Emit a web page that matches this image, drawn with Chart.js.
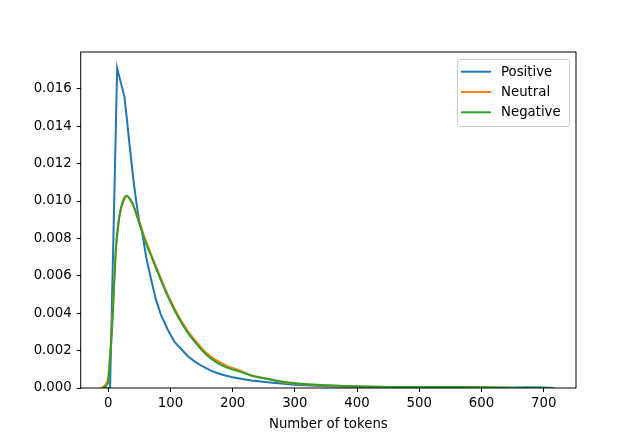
<!DOCTYPE html>
<html>
<head>
<meta charset="utf-8">
<script src="https://cdn.jsdelivr.net/npm/chart.js@4/dist/chart.umd.min.js"></script>
<style>
  html, body { margin: 0; padding: 0; background: #fff; }
  #wrap { width: 640px; height: 436px; }
</style>
</head>
<body>
<div id="wrap"><canvas id="chart" width="640" height="436"></canvas></div>
<script>
// density curves
const positiveX = [-8, 0, 3, 14.4, 26, 30, 33, 37, 40.6, 45, 50, 54, 61, 69, 77, 85, 96, 106.5, 117, 128, 140, 152, 168, 185, 200, 230, 260, 300, 350, 400, 500, 600, 650, 675, 700, 716];
const positiveY = [0, 0, 0, 0.0171, 0.0156, 0.0144, 0.0134, 0.0122, 0.0111, 0.01, 0.0089, 0.00846, 0.0070, 0.0058, 0.0047, 0.0039, 0.0031, 0.00247, 0.0021, 0.0017, 0.0014, 0.00115, 0.00088, 0.0007, 0.00058, 0.0004, 0.0003, 0.00018, 0.0001, 0.00006, 0.00003, 0.00002, 0.00002, 0.00004, 0.00003, 0];

const neutralX = [-11, -4, 0, 2, 5, 7.5, 10, 12.8, 15.6, 18, 23.6, 30, 35, 40, 50, 58, 66, 77, 88, 100, 114, 127, 141, 157, 173, 190, 214, 230, 250, 283, 300, 337, 400, 450, 500, 550, 600, 650];
const neutralY = [0, 0.0002, 0.0006, 0.0014, 0.0028, 0.0043, 0.006, 0.0077, 0.0086, 0.0092, 0.0099, 0.01025, 0.0101, 0.0098, 0.0089, 0.0081, 0.0074, 0.0065, 0.0056, 0.0047, 0.0038, 0.0031, 0.0025, 0.0019, 0.0015, 0.0012, 0.0009, 0.00068, 0.00053, 0.0003, 0.00024, 0.00015, 0.00008, 0.00005, 0.00004, 0.00004, 0.00003, 0];

const negativeX = [-8, -4, 0, 2, 5, 7.5, 10, 12.8, 15.6, 18, 23.6, 30, 35, 40, 50, 58, 66, 77, 88, 100, 114, 127, 141, 157, 173, 190, 214, 230, 250, 283, 300, 337, 400, 450, 500, 550, 600, 650, 717];
const negativeY = [0, 0.0001, 0.0003, 0.0011, 0.0025, 0.004, 0.0058, 0.0076, 0.0085, 0.0092, 0.01, 0.01028, 0.0101, 0.0098, 0.0088, 0.008, 0.0073, 0.0064, 0.0055, 0.0046, 0.0037, 0.003, 0.0024, 0.0018, 0.0014, 0.0011, 0.00085, 0.00066, 0.00052, 0.00032, 0.00026, 0.00017, 0.00009, 0.00006, 0.00005, 0.00005, 0.00004, 0.00001, 0];

const seriesNames = ['Positive', 'Neutral', 'Negative'];
const seriesColors = ['#1f77b4', '#ff7f0e', '#2ca02c'];
const xTicks = [0, 100, 200, 300, 400, 500, 600, 700];
const yTicks = [0, 0.002, 0.004, 0.006, 0.008, 0.010, 0.012, 0.014, 0.016];

const FONT = 'DejaVu Sans';
const FS = 13.3;

function pts(xs, ys) {
    return xs.map((x, i) => ({ x: x, y: ys[i] }));
}

// box round the plot and a matplotlib-like legend in the top right corner
const framePlugin = {
    id: 'frame',
    afterDatasetsDraw(chart) {
        const { ctx, chartArea: a } = chart;
        ctx.save();
        ctx.strokeStyle = '#000';
        ctx.lineWidth = 1;
        ctx.strokeRect(a.left, a.top, a.right - a.left, a.bottom - a.top);

        const bx = 457.5, by = 59.5, bw = 112, bh = 67;
        ctx.fillStyle = 'rgba(255,255,255,0.8)';
        ctx.strokeStyle = '#cccccc';
        ctx.beginPath();
        ctx.roundRect(bx, by, bw, bh, 2);
        ctx.fill();
        ctx.stroke();

        ctx.font = FS + 'px "' + FONT + '"';
        ctx.textBaseline = 'middle';
        ctx.textAlign = 'left';
        seriesNames.forEach((name, i) => {
            const y = 71.7 + i * 20.3;
            ctx.strokeStyle = seriesColors[i];
            ctx.lineWidth = 2;
            ctx.beginPath();
            ctx.moveTo(461, y);
            ctx.lineTo(491, y);
            ctx.stroke();
            ctx.fillStyle = '#000';
            ctx.fillText(name, 501, y + 0.5);
        });
        ctx.restore();
    }
};

const series = [pts(positiveX, positiveY), pts(neutralX, neutralY), pts(negativeX, negativeY)];

new Chart(document.getElementById('chart'), {
    type: 'line',
    data: {
        datasets: series.map((d, i) => ({
            label: seriesNames[i],
            data: d,
            borderColor: seriesColors[i],
            borderWidth: 2,
            pointRadius: 0,
            // blue has a sharp peak, keep it as straight segments
            tension: 0,
            cubicInterpolationMode: i === 0 ? 'default' : 'monotone',
            fill: false,
            order: 3 - i,
        })),
    },
    options: {
        responsive: false,
        animation: false,
        layout: { padding: { top: 52, right: 64, left: 0, bottom: 0 } },
        plugins: { legend: { display: false }, tooltip: { enabled: false } },
        scales: {
            x: {
                type: 'linear',
                min: -44.2,
                max: 752,
                afterFit(s) { s.height = 48; },
                afterBuildTicks(s) { s.ticks = xTicks.map(v => ({ value: v })); },
                grid: { drawOnChartArea: false, drawTicks: true, tickLength: 4, color: '#000' },
                border: { display: false },
                ticks: {
                    autoSkip: false,
                    maxRotation: 0,
                    padding: 4,
                    color: '#000',
                    font: { family: FONT, size: FS },
                    callback: (v) => String(v),
                },
                title: {
                    display: true,
                    text: 'Number of tokens',
                    color: '#000',
                    font: { family: FONT, size: FS },
                    padding: { top: 0, bottom: 3 },
                },
            },
            y: {
                type: 'linear',
                min: 0,
                max: 0.01797,
                afterFit(s) { s.width = 80.7; },
                afterBuildTicks(s) { s.ticks = yTicks.map(v => ({ value: v })); },
                grid: { drawOnChartArea: false, drawTicks: true, tickLength: 4, color: '#000' },
                border: { display: false },
                ticks: {
                    autoSkip: false,
                    padding: 5,
                    color: '#000',
                    font: { family: FONT, size: FS },
                    callback: (v) => v.toFixed(3),
                },
            },
        },
    },
    plugins: [framePlugin],
});
</script>
</body>
</html>
